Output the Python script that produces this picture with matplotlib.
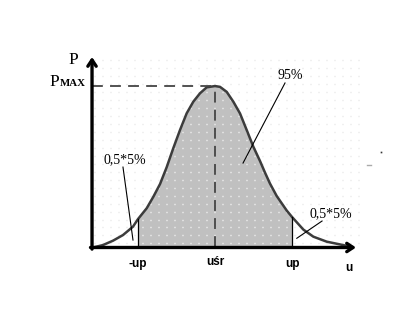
import numpy as np
import matplotlib.pyplot as plt

# curve (u in units of up, P in units of Pmax)
u_curve = [-1.584, -1.455, -1.325, -1.195, -1.065, -1.0, -0.887, -0.801,
           -0.714, -0.627, -0.541, -0.455, -0.368, -0.282, -0.195, -0.108,
           0.0, 0.065, 0.152, 0.238, 0.325, 0.412, 0.498, 0.584, 0.649,
           0.714, 0.801, 0.931, 1.0, 1.147, 1.277, 1.451, 1.623, 1.753]
p_curve = [0.0, 0.015, 0.042, 0.077, 0.129, 0.176, 0.243, 0.314,
           0.393, 0.498, 0.616, 0.727, 0.831, 0.903, 0.955, 0.992,
           1.0, 0.995, 0.964, 0.903, 0.830, 0.727, 0.624, 0.536, 0.464,
           0.396, 0.319, 0.229, 0.189, 0.111, 0.067, 0.036, 0.019, 0.006]

u_ticks = [-1.0, 0.0, 1.0]
u_tick_labels = ["-up", "uśr", "up"]
p_max = 1.0

fig = plt.figure(figsize=(4.2, 3.09), dpi=100)
ax = fig.add_axes([0, 0, 1, 1])
ax.set_xlim(-2.792, 2.662)
ax.set_ylim(-0.381, 1.533)
ax.axis("off")

u = np.array(u_curve)
p = np.array(p_curve)
u0, u1 = u_ticks[0], u_ticks[2]
origin_u, origin_p = -1.597, 0.0

# shaded 95% area
mask = (u >= u0) & (u <= u1)
band = ax.fill_between(u[mask], 0, p[mask], color="#c0c0c0", lw=0, zorder=1)

# faint dot grid: grey on white, white inside the shaded band
dots = dict(lw=1.0, ls=(0, (0.72, 5.04)))
for yy in np.arange(origin_p + 4 / 161.5, 1.2, 8 / 161.5):
    ax.plot([origin_u + 0.03, 1.9], [yy, yy], color="#e2e2e2", zorder=0.5, **dots)
    ln, = ax.plot([origin_u + 0.03, 1.9], [yy, yy], color="white", zorder=2, **dots)
    ln.set_clip_path(band.get_paths()[0], ax.transData)

# curve
ax.plot(u, p, color="#3c3c3c", lw=1.8, zorder=4, solid_capstyle="round",
        solid_joinstyle="round")

# bounds of the shaded region
ax.plot([u0, u0], [0, p[u == u0][0]], color="black", lw=0.9, zorder=4)
ax.plot([u1, u1], [0, p[u == u1][0]], color="black", lw=0.9, zorder=4)

# dashed guides to Pmax
ax.plot([origin_u, 0], [p_max, p_max], color="#444444", lw=1.3,
        ls=(0, (6, 4)), zorder=4)
ax.plot([0, 0], [0, p_max], color="#444444", lw=1.3, ls=(0, (6, 4)), zorder=4)

# axes with arrows
arrow = dict(arrowstyle="->,head_length=0.45,head_width=0.3", lw=2.4,
             color="black", shrinkA=0, shrinkB=0)
ax.annotate("", xy=(1.831, origin_p), xytext=(origin_u - 0.02, origin_p),
            arrowprops=arrow, zorder=6)
ax.annotate("", xy=(origin_u, 1.18), xytext=(origin_u, origin_p - 0.01),
            arrowprops=arrow, zorder=6)

serif = "Liberation Serif"
ax.text(-1.844, 1.136, "P", family=serif, fontsize=12.5, ha="center", va="baseline")
ax.text(-2.156, 1.003, "P", family=serif, fontsize=12.5, ha="left", va="baseline")
ax.text(-2.02, 1.003, "MAX", family=serif, fontsize=7.8, ha="left",
        va="baseline", fontweight="bold")

ax.text(0.975, 1.046, "95%", family=serif, fontsize=10, ha="center",
        va="baseline")
ax.text(-1.175, 0.523, "0,5*5%", family=serif, fontsize=10, ha="center",
        va="baseline")
ax.text(1.51, 0.189, "0,5*5%", family=serif, fontsize=10, ha="center",
        va="baseline")

# leader lines
ax.plot([0.909, 0.364], [1.019, 0.523], color="black", lw=0.8, zorder=5)
ax.plot([-1.195, -1.065], [0.498, 0.046], color="black", lw=0.8, zorder=5)
ax.plot([1.39, 1.062], [0.164, 0.057], color="black", lw=0.8, zorder=5)

tick_base = [-0.121, -0.108, -0.121]
for t, b, lab in zip(u_ticks, tick_base, u_tick_labels):
    ax.text(t, b, lab, family="Liberation Sans", fontweight="bold",
            fontsize=8.5, ha="center", va="baseline")
ax.text(1.74, -0.146, "u", family="Liberation Sans", fontweight="bold",
        fontsize=8.5, ha="center", va="baseline")

# small stray marks at the right edge
ax.plot([2.151], [0.591], marker="s", ms=1.2, color="#333333", mec="none")
ax.plot([1.97, 2.03], [0.508, 0.508], color="#aaaaaa", lw=1.0)

fig.savefig("out.png", dpi=100)
